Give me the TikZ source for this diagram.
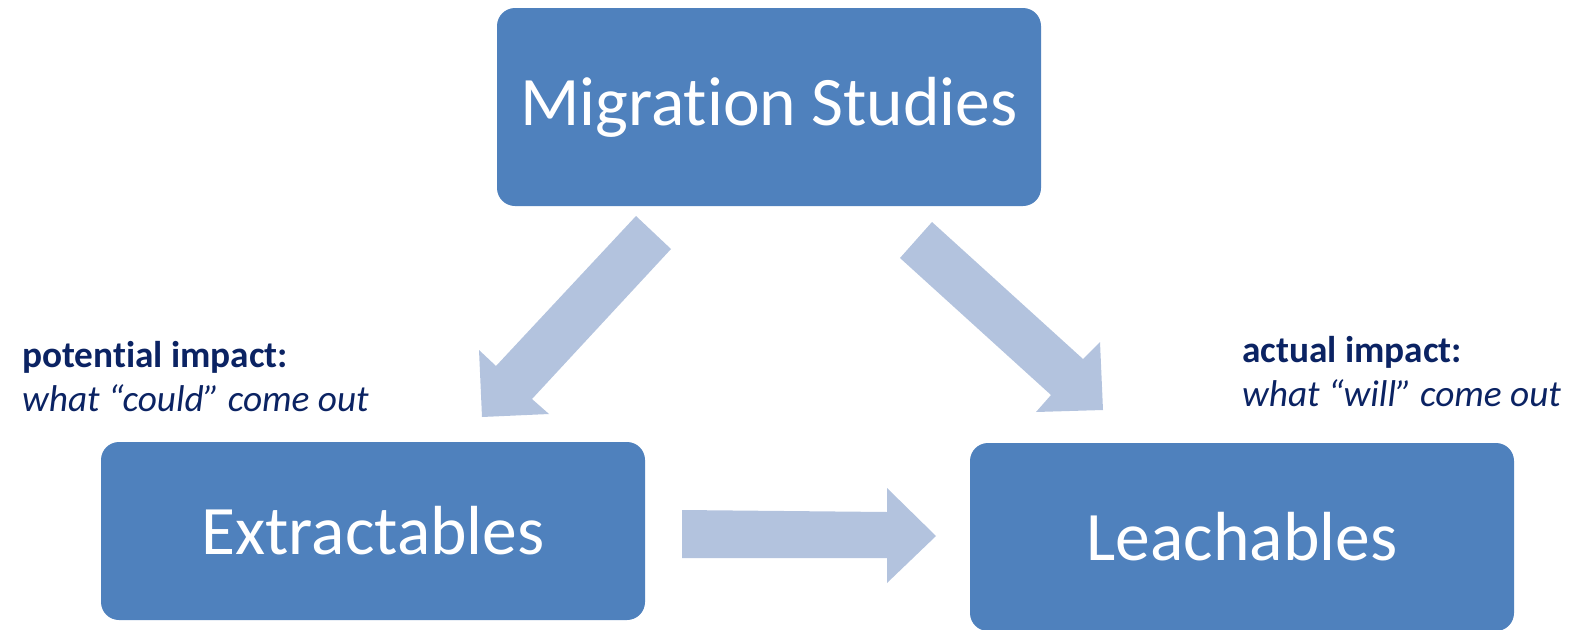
\documentclass[tikz,border=0pt]{standalone}
\usepackage{fontspec}
\setmainfont{Carlito}[Ligatures={NoCommon}]
\definecolor{boxblue}{HTML}{4F81BD}
\definecolor{arrowblue}{HTML}{B3C3DE}
\definecolor{navy}{HTML}{0B2363}
\begin{document}
\begin{tikzpicture}[x=1pt,y=-1pt,
  mainbox/.style={fill=boxblue, draw=none, rounded corners=18pt, text=white,
    minimum width=544pt, font=\fontsize{69.5}{84}\selectfont, inner sep=0pt},
  blockarrow/.style={fill=arrowblue, draw=none},
  boldlabel/.style={anchor=base west, inner sep=0pt, text=navy, font=\fontsize{37.3}{44}\selectfont\bfseries},
  itlabel/.style={anchor=base west, inner sep=0pt, text=navy, font=\fontsize{37.3}{44}\selectfont\itshape}]
\useasboundingbox (0,0) rectangle (1571,629);
\node[mainbox, minimum height=198pt] (mig) at (769,107) {Migration Studies};
\node[mainbox, minimum height=178pt] (ext) at (373,531) {Extractables};
\node[mainbox, minimum height=188pt] (lea) at (1242,537) {Leachables};
% block arrows
\fill[blockarrow] (636,216) -- (671,249) -- (532,399) -- (549,414) -- (482,417) -- (479,350) -- (496,366) -- cycle;
\fill[blockarrow] (932,222) -- (1083,359) -- (1100,342) -- (1103,410) -- (1036,412) -- (1051,395) -- (900,258) -- cycle;
\fill[blockarrow] (682,510) -- (887,512) -- (887,488) -- (936,536) -- (887,583) -- (887,558) -- (682,558) -- cycle;
% labels
\node[boldlabel] (pot) at (22,367) {potential impact:};
\node[itlabel] (potd) at (22,411) {what “could” come out};
\node[boldlabel] (act) at (1242,362) {actual impact:};
\node[itlabel] (actd) at (1242,406) {what “will” come out};
\end{tikzpicture}
\end{document}
